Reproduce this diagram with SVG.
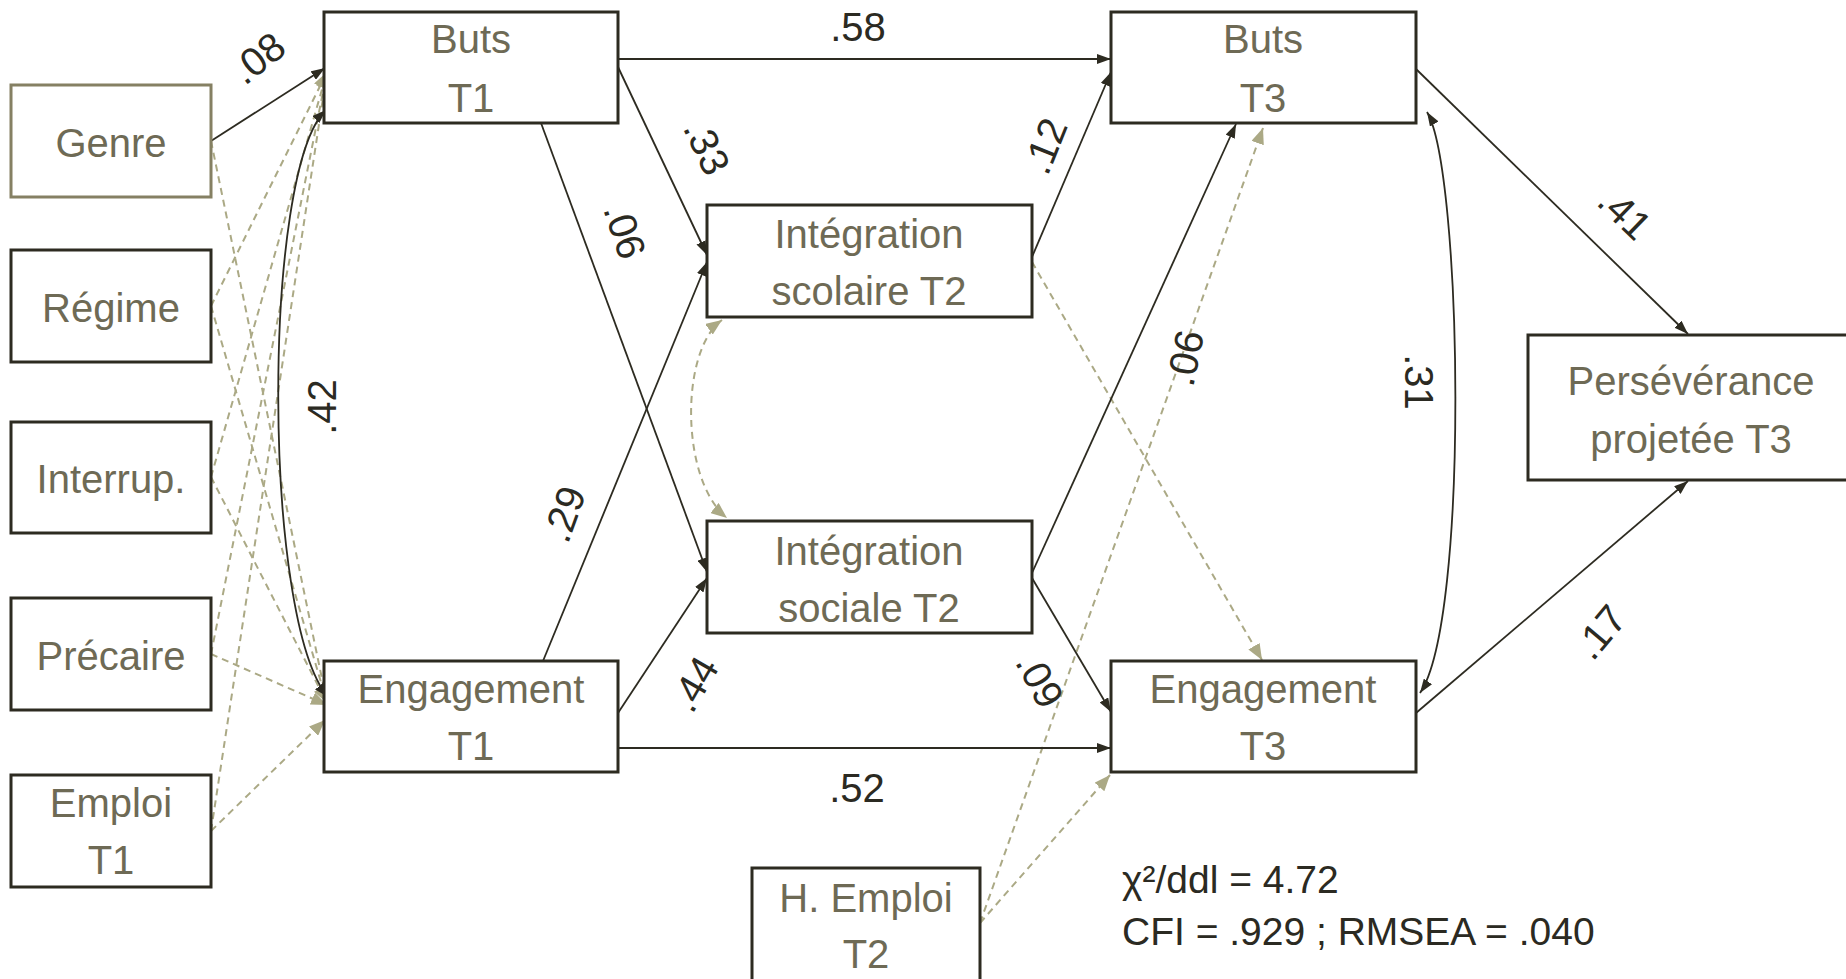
<svg xmlns="http://www.w3.org/2000/svg" width="1846" height="979" viewBox="0 0 1846 979">
<defs>
<style>
.box{fill:#fff;stroke:#2d2b21;stroke-width:3}
.boxo{fill:#fff;stroke:#858063;stroke-width:3}
.nt{font-family:"Liberation Sans",Arial,sans-serif;font-size:40px;fill:#6e6a55;text-anchor:middle}
.lb{font-family:"Liberation Sans",Arial,sans-serif;font-size:40px;fill:#2b2a22;text-anchor:middle}
.st{font-family:"Liberation Sans",Arial,sans-serif;font-size:39px;fill:#2b2a22}
.s{fill:none;stroke:#2d2b21;stroke-width:1.8;marker-end:url(#ad)}
.s2{fill:none;stroke:#2d2b21;stroke-width:1.8;marker-end:url(#ad);marker-start:url(#ad)}
.d{fill:none;stroke:#aba985;stroke-width:2;stroke-dasharray:7,5;marker-end:url(#ao)}
.d2{fill:none;stroke:#aba985;stroke-width:2;stroke-dasharray:7,5;marker-end:url(#ao);marker-start:url(#ao)}
</style>
<marker id="ad" viewBox="0 0 14 10" refX="14" refY="5" markerWidth="14" markerHeight="10" markerUnits="userSpaceOnUse" orient="auto-start-reverse"><path d="M0,0 L14,5 L0,10 z" fill="#2d2b21"/></marker>
<marker id="ao" viewBox="0 0 16 13" refX="16" refY="6.5" markerWidth="16" markerHeight="13" markerUnits="userSpaceOnUse" orient="auto-start-reverse"><path d="M0,0 L16,6.5 L0,13 z" fill="#aba985"/></marker>
</defs>
<rect width="1846" height="979" fill="#fff"/>
<g id="connectors">
<path class="d" d="M211,141 L327,703"/>
<path class="d" d="M211,306 L327,72"/>
<path class="d" d="M211,306 L327,703"/>
<path class="d" d="M211,477 L327,72"/>
<path class="d" d="M211,477 L327,703"/>
<path class="d" d="M211,654 L327,72"/>
<path class="d" d="M211,654 L327,705"/>
<path class="d" d="M211,831 L327,72"/>
<path class="d" d="M211,831 L325,720"/>
<path class="d2" d="M722,320 C680,350 680,480 727,518"/>
<path class="d" d="M1032,262 L1262,660"/>
<path class="d" d="M980,923 L1263,128"/>
<path class="d" d="M980,923 L1110,775"/>
<path class="s" d="M211,141 L325,68"/>
<path class="s" d="M618,59 L1111,59"/>
<path class="s" d="M618,67 L707,255"/>
<path class="s" d="M541,123 L707,572"/>
<path class="s" d="M543,661 L707,262"/>
<path class="s" d="M618,713 L707,578"/>
<path class="s" d="M618,748 L1111,748"/>
<path class="s" d="M1032,257 L1111,72"/>
<path class="s" d="M1032,573 L1236,124"/>
<path class="s" d="M1032,578 L1111,712"/>
<path class="s" d="M1416,69 L1688,334"/>
<path class="s" d="M1416,713 L1688,481"/>
<path class="s2" d="M326,110 C262,170 262,620 328,697"/>
<path class="s2" d="M1427,112 C1462,170 1470,620 1420,693"/>
<text class="lb" transform="translate(258,58) rotate(-38)" y="14">.08</text>
<text class="lb" x="858" y="41">.58</text>
<text class="lb" transform="translate(707,147) rotate(65)" y="14">.33</text>
<text class="lb" transform="translate(625,231) rotate(72)" y="14">.06</text>
<text class="lb" transform="translate(322,407) rotate(-90)" y="14">.42</text>
<text class="lb" transform="translate(564,514) rotate(-70)" y="14">.29</text>
<text class="lb" transform="translate(694,684) rotate(-60)" y="14">.44</text>
<text class="lb" x="857" y="802">.52</text>
<text class="lb" transform="translate(1045,146) rotate(-68)" y="14">.12</text>
<text class="lb" transform="translate(1185,358) rotate(-78)" y="14">.06</text>
<text class="lb" transform="translate(1040,680) rotate(62)" y="14">.09</text>
<text class="lb" transform="translate(1419,382) rotate(90)" y="14">.31</text>
<text class="lb" transform="translate(1625,213) rotate(44)" y="14">.41</text>
<text class="lb" transform="translate(1600,632) rotate(-50)" y="14">.17</text>
</g>
<g id="genre"><rect class="boxo" x="11" y="85" width="200" height="112"/><text class="nt" x="111" y="157">Genre</text></g>
<g id="regime"><rect class="box" x="11" y="250" width="200" height="112"/><text class="nt" x="111" y="322">Régime</text></g>
<g id="interrup"><rect class="box" x="11" y="422" width="200" height="111"/><text class="nt" x="111" y="493">Interrup.</text></g>
<g id="precaire"><rect class="box" x="11" y="598" width="200" height="112"/><text class="nt" x="111" y="670">Précaire</text></g>
<g id="emploi-t1"><rect class="box" x="11" y="775" width="200" height="112"/><text class="nt" x="111" y="817">Emploi</text><text class="nt" x="111" y="874">T1</text></g>
<g id="buts-t1"><rect class="box" x="324" y="12" width="294" height="111"/><text class="nt" x="471" y="53">Buts</text><text class="nt" x="471" y="112">T1</text></g>
<g id="engagement-t1"><rect class="box" x="324" y="661" width="294" height="111"/><text class="nt" x="471" y="703">Engagement</text><text class="nt" x="471" y="760">T1</text></g>
<g id="integration-scolaire"><rect class="box" x="707" y="205" width="325" height="112"/><text class="nt" x="869" y="248">Intégration</text><text class="nt" x="869" y="305">scolaire T2</text></g>
<g id="integration-sociale"><rect class="box" x="707" y="521" width="325" height="112"/><text class="nt" x="869" y="565">Intégration</text><text class="nt" x="869" y="622">sociale T2</text></g>
<g id="buts-t3"><rect class="box" x="1111" y="12" width="305" height="111"/><text class="nt" x="1263" y="53">Buts</text><text class="nt" x="1263" y="112">T3</text></g>
<g id="engagement-t3"><rect class="box" x="1111" y="661" width="305" height="111"/><text class="nt" x="1263" y="703">Engagement</text><text class="nt" x="1263" y="760">T3</text></g>
<g id="perseverance"><rect class="box" x="1528" y="335" width="327" height="145"/><text class="nt" x="1691" y="395">Persévérance</text><text class="nt" x="1691" y="453">projetée T3</text></g>
<g id="h-emploi-t2"><rect class="box" x="752" y="868" width="228" height="118"/><text class="nt" x="866" y="912">H. Emploi</text><text class="nt" x="866" y="968">T2</text></g>
<g id="fit-stats"><text class="st" x="1122" y="893">χ²/ddl = 4.72</text><text class="st" x="1122" y="945">CFI = .929 ; RMSEA = .040</text></g>
</svg>
